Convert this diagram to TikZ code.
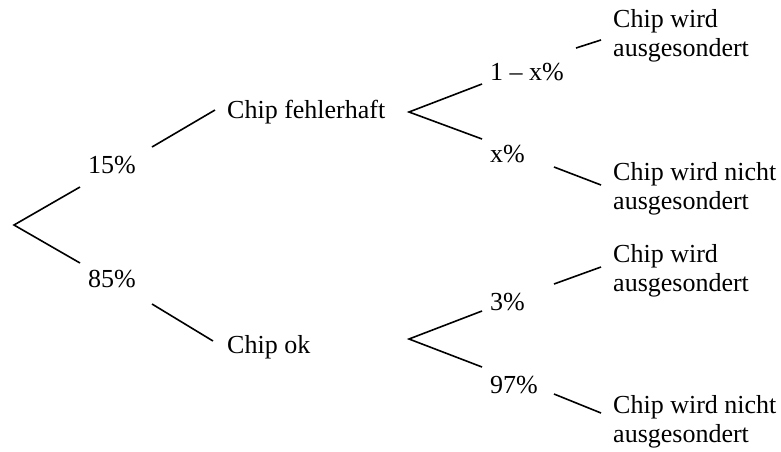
\documentclass[tikz,border=0pt]{standalone}
\usepackage{fontspec}
\setmainfont{Liberation Serif}
\begin{document}
\begin{tikzpicture}[x=1pt,y=-1pt,
  lbl/.style={anchor=base west,inner sep=0pt,font=\fontsize{26}{29}\selectfont,align=left},
  br/.style={line width=1.6pt,line cap=butt}]
\useasboundingbox (0,0) rectangle (781,451);
% text nodes
\node[lbl] (p15) at (88,173) {15\%};
\node[lbl] (p85) at (88,287) {85\%};
\node[lbl] (cf) at (227,118) {Chip fehlerhaft};
\node[lbl] (cok) at (227,353) {Chip ok};
\node[lbl] (p1x) at (490,80) {1 – x\%};
\node[lbl] (px) at (490,162) {x\%};
\node[lbl] (p3) at (490,310) {3\%};
\node[lbl] (p97) at (490,393) {97\%};
\node[lbl] (l1) at (613,56) {Chip wird\\ausgesondert};
\node[lbl] (l2) at (613,209) {Chip wird nicht\\ausgesondert};
\node[lbl] (l3) at (613,291) {Chip wird\\ausgesondert};
\node[lbl] (l4) at (613,442) {Chip wird nicht\\ausgesondert};
% branch points
\coordinate (r0) at (14,225);
\coordinate (r1) at (80,187);
\coordinate (r2) at (80,263);
\coordinate (a1) at (152,147);
\coordinate (a2) at (215,110);
\coordinate (b1) at (152,304);
\coordinate (b2) at (213,341);
\coordinate (f0) at (409,112);
\coordinate (f1) at (482,84);
\coordinate (f2) at (482,139);
\coordinate (g0) at (409,339);
\coordinate (g1) at (482,311);
\coordinate (g2) at (482,367);
\coordinate (c1) at (576,48);
\coordinate (c2) at (601,40);
\coordinate (d1) at (554,167);
\coordinate (d2) at (601,185);
\coordinate (e1) at (554,284);
\coordinate (e2) at (601,267);
\coordinate (h1) at (554,394);
\coordinate (h2) at (601,413);
% connectors
\draw[br] (r1) -- (r0) -- (r2);
\draw[br] (a1) -- (a2);
\draw[br] (b1) -- (b2);
\draw[br] (f1) -- (f0) -- (f2);
\draw[br] (g1) -- (g0) -- (g2);
\draw[br] (c1) -- (c2);
\draw[br] (d1) -- (d2);
\draw[br] (e1) -- (e2);
\draw[br] (h1) -- (h2);
\end{tikzpicture}
\end{document}
